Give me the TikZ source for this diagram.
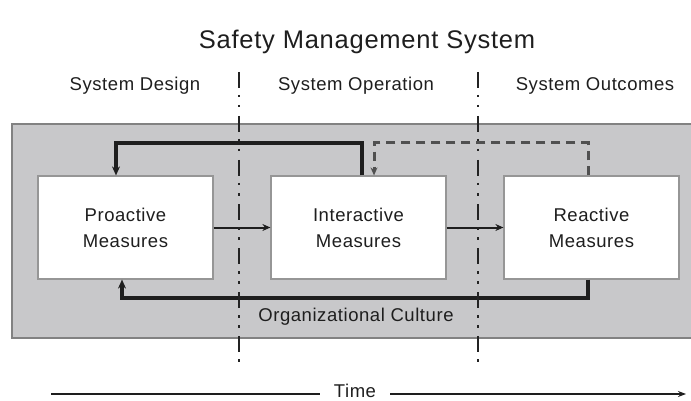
\documentclass[tikz,border=0pt]{standalone}
\usepackage{fontspec}
\setmainfont[LetterSpace=3]{Liberation Sans}
\usetikzlibrary{arrows.meta}
\definecolor{panel}{RGB}{200,200,202}
\definecolor{paneledge}{RGB}{130,130,130}
\definecolor{ink}{RGB}{30,30,30}
\begin{document}
\begin{tikzpicture}[x=1pt,y=-1pt,
  measurebox/.style={draw={rgb,255:red,150;green,150;blue,150},line width=1.2pt,fill=white,
    minimum width=175pt,minimum height=103pt,inner sep=0pt,align=center,
    text=ink,font=\fontsize{18.5}{26}\selectfont},
  lbl/.style={text=ink,font=\fontsize{18.5}{20}\selectfont,inner sep=0pt},
  thinarrow/.style={draw=ink,line width=2pt,-{Stealth[length=8pt,width=7pt]}},
  feedback/.style={draw=ink,line width=3.2pt,line join=miter},
  fbtip/.style={-{Stealth[length=9pt,width=8pt]}},
  dashfb/.style={draw={rgb,255:red,80;green,80;blue,80},line width=3pt,dash pattern=on 9pt off 6pt},
  phase/.style={draw={rgb,255:red,35;green,35;blue,35},line width=2.6pt,
    dash pattern=on 16pt off 7pt on 2.5pt off 7.5pt on 2.5pt off 8.5pt},
  timeline/.style={draw=ink,line width=2.8pt}
]
\useasboundingbox (0,0) rectangle (691,401);
% panel
\fill[panel] (12,124) rectangle (695,338);
\draw[paneledge,line width=1.8pt] (695,124) -- (12,124) -- (12,338) -- (695,338);

% titles
\node[text=ink,font=\fontsize{25.5}{28}\selectfont,inner sep=0pt] (title) at (367,42) {Safety Management System};
\node[lbl] (design) at (135,86) {System Design};
\node[lbl] (operation) at (356,86) {System Operation};
\node[lbl] (outcomes) at (595,86) {System Outcomes};

% boxes
\node[measurebox] (P) at (125.5,227.5) {Proactive\\Measures};
\node[measurebox] (I) at (358.5,227.5) {Interactive\\Measures};
\node[measurebox] (R) at (591.5,227.5) {Reactive\\Measures};

% forward arrows
\draw[thinarrow] (P.east) -- (I.west);
\draw[thinarrow] (I.east) -- (R.west);

% feedback loops
\coordinate (tA) at (362,143);
\coordinate (tB) at (116,143);
\draw[feedback,fbtip] (tA |- I.north) -- (tA) -- (tB) -- (tB |- P.north);

\coordinate (dA) at (588,143);
\coordinate (dB) at (374,143);
\draw[dashfb,-{Stealth[length=8pt,width=7pt]}] (dA |- R.north) -- (dA) -- (dB) -- (dB |- I.north);

\coordinate (bA) at (588,298);
\coordinate (bB) at (122,298);
\draw[feedback,fbtip] (bA |- R.south) -- (bA) -- (bB) -- (bB |- P.south);

\node[lbl] (culture) at (356,317) {Organizational Culture};

% phase separators
\coordinate (s1t) at (239,72);
\coordinate (s1b) at (239,368);
\coordinate (s2t) at (478,72);
\coordinate (s2b) at (478,368);
\draw[phase] (s1t) -- (s1b);
\draw[phase] (s2t) -- (s2b);

% time axis
\node[lbl,inner xsep=14pt] (time) at (355,391) {Time};
\coordinate (tl) at (51,394);
\coordinate (tr) at (686,394);
\draw[timeline] (tl) -- (time.west |- tl);
\draw[timeline,-{Stealth[length=8pt,width=6pt]}] (time.east |- tr) -- (tr);
\end{tikzpicture}
\end{document}
